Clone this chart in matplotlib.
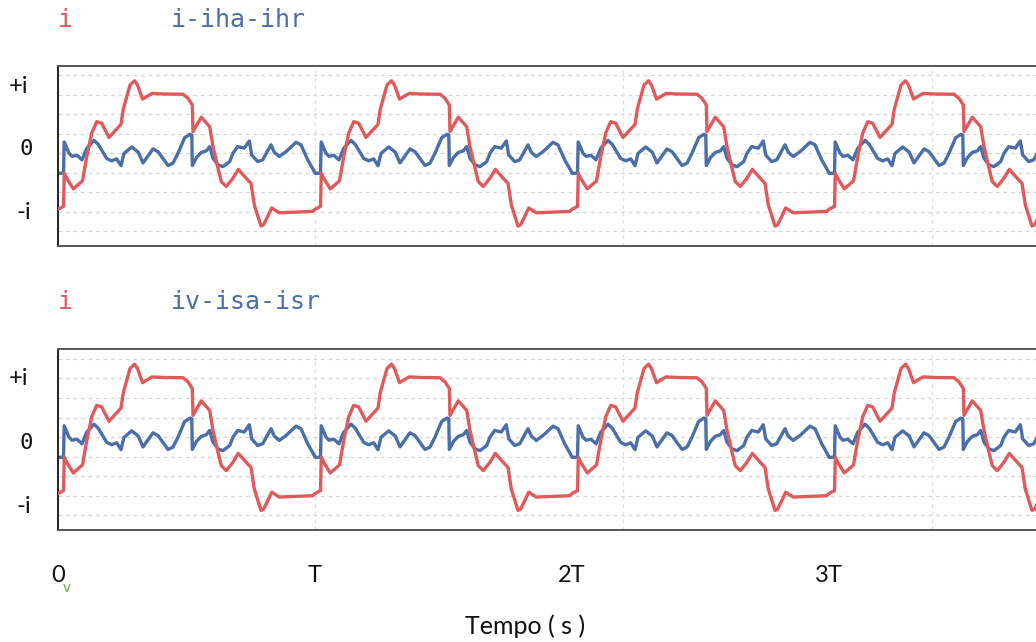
import numpy as np
import matplotlib
matplotlib.use("Agg")
import matplotlib.pyplot as plt
from matplotlib import transforms, font_manager

# One period of each waveform: time in units of the period T,
# amplitude in units of the horizontal grid spacing.
red_t = [0.0000, 0.0214, 0.0245, 0.0339, 0.0595, 0.0953, 0.1117, 0.1311,
         0.1506, 0.1700, 0.1984, 0.2451, 0.2541, 0.2802, 0.2977, 0.3093,
         0.3288, 0.3658, 0.4163, 0.4864, 0.5058, 0.5226, 0.5253, 0.5576,
         0.5903, 0.6031, 0.6226, 0.6354, 0.6549, 0.6809, 0.7016, 0.7381,
         0.7510, 0.7638, 0.7899, 0.7996, 0.8160, 0.8315, 0.8611, 0.9195,
         0.9911]
red_v = [-2.88, -2.73, -1.03, -1.29, -1.83, -1.42, -0.19, 1.03,
         1.62, 1.54, 0.81, 1.48, 2.27, 3.50, 3.72, 3.50,
         2.78, 3.07, 3.04, 3.03, 2.82, 2.48, 1.11, 1.85,
         1.36, 0.34, -0.77, -1.46, -1.71, -1.28, -0.83, -1.37,
         -1.54, -2.65, -3.74, -3.68, -3.25, -2.81, -3.06, -3.03,
         -2.99]

blue_t = [0.0000, 0.0214, 0.0241, 0.0428, 0.0545, 0.0739, 0.0934, 0.1117,
          0.1401, 0.1568, 0.1895, 0.2089, 0.2284, 0.2451, 0.2568, 0.2868,
          0.3125, 0.3307, 0.3696, 0.3891, 0.4280, 0.4475, 0.4669, 0.4930,
          0.5136, 0.5206, 0.5226, 0.5389, 0.5576, 0.5770, 0.5903, 0.6031,
          0.6226, 0.6420, 0.6681, 0.6809, 0.6992, 0.7249, 0.7444, 0.7537,
          0.7770, 0.7965, 0.8288, 0.8416, 0.8611, 0.8872, 0.9261, 0.9455,
          0.9716, 0.9973]
blue_v = [-1.03, -1.03, 0.58, 0.00, -0.16, -0.11, -0.34, 0.25,
          0.66, 0.45, -0.27, -0.39, -0.29, -0.64, -0.01, 0.32,
          0.05, -0.50, 0.22, 0.08, -0.63, -0.51, 0.00, 0.80,
          0.97, 0.94, -0.63, -0.22, 0.04, 0.12, 0.34, -0.26,
          -0.60, -0.69, -0.43, 0.00, 0.34, 0.26, 0.63, -0.09,
          -0.43, -0.34, 0.43, 0.05, -0.17, 0.08, 0.56, 0.43,
          -0.34, -0.94]

n_periods = 4
x_tick_pos = [0, 1, 2, 3]
x_tick_labels = ["0", "T", "2T", "3T"]
y_tick_labels = ["+i", "0", "-i"]
top_ytick_pos = [3.45, 0.20, -3.03]
bottom_ytick_pos = [2.97, -0.31, -3.53]
panel_titles = [("i", "i-iha-ihr"), ("i", "iv-isa-isr")]
x_label = "Tempo ( s )"

RED = "#e05a5c"
BLUE = "#4a6ea8"

installed = {f.name for f in font_manager.fontManager.ttflist}
SANS = "Liberation Sans Narrow" if "Liberation Sans Narrow" in installed else "Lato"
MONO = "DejaVu Sans Mono"

W, H = 1036, 642
fig = plt.figure(figsize=(W / 100, H / 100), dpi=100)
fig.patch.set_facecolor("white")


def periodic(t, v, n):
    tt = np.concatenate([np.asarray(t) + k for k in range(n)])
    vv = np.tile(np.asarray(v), n)
    return tt, vv


def px_box(left, top, right, bottom):
    return [left / W, 1 - bottom / H, (right - left) / W, (bottom - top) / H]


boxes = [px_box(58, 66, W, 245.5), px_box(58, 349.3, W, 530)]
ytick_sets = [top_ytick_pos, bottom_ytick_pos]
title_y = [20, 302]
tick_x_px = [19, 26, 24]

rt, rv = periodic(red_t, red_v, n_periods)
bt, bv = periodic(blue_t, blue_v, n_periods)

axes = []
for i, box in enumerate(boxes):
    ax = fig.add_axes(box)
    axes.append(ax)
    ax.set_xlim(0, (W - 58) / 257)
    ax.set_ylim(-4.74, 4.48)

    for y in range(-4, 5):
        ax.axhline(y, color="#d6d6d6", lw=0.9, ls=(0, (3, 3)), zorder=0)
    for x in (1.0, 2.2, 3.4):
        ax.axvline(x, color="#dde5d3", lw=0.9, ls=(0, (3, 3)), zorder=0)

    ax.plot(bt, bv, color=BLUE, lw=2.4, solid_joinstyle="round", zorder=2)
    ax.plot(rt, rv, color=RED, lw=2.4, solid_joinstyle="round", zorder=3)

    ax.spines["right"].set_visible(False)
    ax.spines["top"].set_color("#555555")
    ax.spines["bottom"].set_color("#555555")
    ax.spines["left"].set_color("#222222")
    for s in ("top", "bottom", "left"):
        ax.spines[s].set_linewidth(1.4)
    ax.set_yticks([])
    ax.tick_params(axis="x", length=0)

    trans = transforms.blended_transform_factory(fig.transFigure, ax.transData)
    for lbl, ypos, xp in zip(y_tick_labels, ytick_sets[i], tick_x_px):
        if lbl == "0":
            ax.text(xp / W, ypos, lbl, transform=trans, ha="center", va="center",
                    fontsize=16, family=MONO, color="#111111")
        else:
            ax.text(xp / W, ypos, lbl, transform=trans, ha="center", va="center",
                    fontsize=17, family=SANS, color="#111111")

    red_name, blue_name = panel_titles[i]
    fig.text(65 / W, 1 - title_y[i] / H, red_name, color=RED, family=MONO,
             fontsize=18, ha="center", va="center")
    fig.text(171 / W, 1 - title_y[i] / H, blue_name, color=BLUE, family=MONO,
             fontsize=18, ha="left", va="center")

axes[0].set_xticks([])
axes[1].set_xticks(x_tick_pos, x_tick_labels)
axes[1].tick_params(axis="x", length=0, pad=25, labelsize=17, labelcolor="#111111")
for lab in axes[1].get_xticklabels():
    lab.set_family(SANS)

fig.text(67 / W, 1 - 588 / H, "v", color="#5fb23a", fontsize=11,
         ha="center", va="center", family=SANS)
fig.text(525 / W, 1 - 626 / H, x_label, ha="center", va="center",
         fontsize=18, family=SANS, color="#111111")

fig.savefig("out.png", dpi=100, facecolor="white")
